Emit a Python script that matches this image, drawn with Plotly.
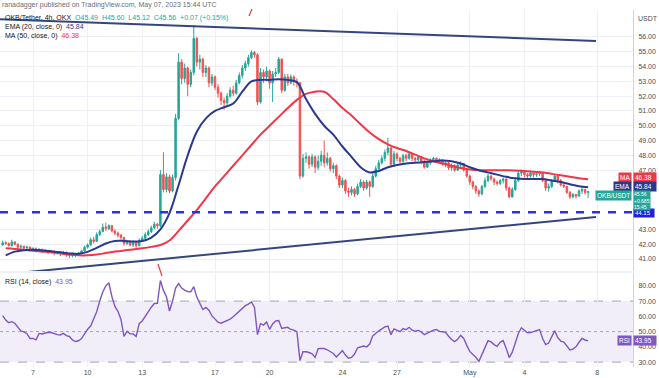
import plotly.graph_objects as go
from datetime import datetime, timedelta

# ---------------- data (OKB/USDT, 4h candles) ----------------
first_open = 41.95
closes = [42.10, 42.05, 41.90, 42.15, 42.00, 41.80, 41.85, 41.75, 41.80, 41.60,
          41.70, 41.55, 41.65, 41.50, 41.58, 41.45, 41.52, 41.40, 41.48, 41.35,
          41.45, 41.30, 41.25, 41.35, 41.28, 41.40, 41.55, 41.80, 41.95, 42.30,
          42.20, 42.65, 42.85, 43.15, 43.05, 43.25, 42.90, 42.75, 42.60, 42.45,
          42.05, 42.20, 41.95, 42.15, 41.90, 42.25, 42.40, 42.65, 42.85, 43.10,
          43.35, 43.25, 46.70, 45.70, 46.55, 45.60, 46.50, 50.50, 54.30, 53.20,
          53.90, 52.80, 53.60, 55.90, 54.30, 54.50, 53.60, 53.90, 52.90, 53.30,
          52.60, 52.20, 51.70, 51.55, 52.00, 52.40, 52.20, 52.90, 53.40, 53.90,
          54.20, 54.60, 54.95, 54.80, 51.60, 53.60, 53.30, 53.70, 52.90, 53.50,
          53.60, 54.50, 52.40, 53.30, 52.90, 53.30, 53.00, 52.90, 46.60, 47.80,
          47.90, 47.40, 47.90, 47.20, 47.60, 48.00, 47.50, 47.80, 47.10, 47.30,
          46.60, 46.00, 46.30, 45.60, 45.50, 45.70, 45.40, 45.90, 46.20, 45.80,
          46.20, 45.90, 46.60, 47.10, 47.50, 47.80, 48.20, 48.50, 47.40, 48.10,
          47.80, 47.60, 48.00, 47.80, 48.10, 47.80, 47.70, 47.90, 47.60, 47.20,
          47.50, 47.70, 47.80, 47.65, 47.70, 47.40, 47.50, 47.15, 47.30, 47.00,
          47.35, 47.45, 47.00, 46.60, 46.20, 45.90, 45.60, 45.40, 45.90, 46.30,
          46.60, 46.40, 46.20, 46.10, 46.30, 46.40, 45.80, 45.20, 45.70, 46.30,
          46.80, 46.90, 46.70, 46.60, 46.80, 46.70, 46.75, 46.85, 46.30, 45.80,
          45.90, 46.30, 46.60, 46.30, 46.00, 45.90, 45.50, 45.20, 45.35, 45.25,
          45.60, 45.70, 45.49, 45.56]
highs = [42.25, 42.20, 42.12, 42.30, 42.20, 42.05, 41.98, 41.92, 41.90, 41.85,
         41.80, 41.78, 41.75, 41.70, 41.68, 41.62, 41.60, 41.58, 41.55, 41.52,
         41.55, 41.50, 41.40, 41.45, 41.40, 41.48, 41.62, 41.90, 42.05, 42.45,
         42.50, 42.80, 43.00, 43.40, 43.45, 43.35, 43.30, 43.00, 42.85, 42.70,
         42.50, 42.30, 42.25, 42.25, 42.20, 42.40, 42.55, 42.80, 43.00, 43.25,
         43.50, 43.45, 47.00, 48.20, 46.80, 46.70, 46.70, 50.80, 54.90, 54.50,
         54.20, 54.00, 53.80, 56.80, 56.00, 54.80, 54.60, 54.10, 54.00, 53.50,
         53.40, 52.80, 52.30, 51.90, 52.20, 52.60, 52.70, 53.10, 53.60, 54.10,
         54.40, 54.80, 55.10, 55.05, 54.90, 53.90, 53.80, 54.00, 53.80, 53.70,
         53.90, 54.65, 54.55, 53.50, 53.50, 53.45, 53.40, 53.20, 52.95, 48.10,
         48.20, 48.00, 48.10, 48.00, 48.00, 48.30, 49.00, 48.20, 47.90, 47.50,
         47.40, 46.70, 46.50, 46.40, 45.80, 45.90, 45.80, 46.10, 46.40, 46.30,
         46.35, 46.30, 46.80, 47.30, 47.70, 48.00, 48.40, 49.20, 48.60, 48.30,
         48.20, 47.90, 48.10, 48.10, 48.20, 48.15, 47.90, 48.00, 47.95, 47.70,
         47.65, 47.80, 47.90, 47.85, 47.80, 47.75, 47.60, 47.55, 47.45, 47.40,
         47.50, 47.60, 47.50, 47.10, 46.70, 46.30, 46.00, 45.70, 46.00, 46.50,
         46.75, 46.70, 46.50, 46.30, 46.40, 46.50, 46.45, 45.90, 45.85, 46.45,
         46.95, 47.05, 46.95, 46.80, 46.90, 46.85, 46.90, 46.95, 46.90, 46.35,
         46.10, 46.40, 46.70, 46.65, 46.40, 46.10, 45.95, 45.60, 45.45, 45.40,
         45.70, 45.85, 45.75, 45.60]
lows = [41.90, 41.95, 41.85, 41.85, 41.92, 41.70, 41.70, 41.62, 41.65, 41.50,
        41.52, 41.45, 41.50, 41.40, 41.42, 41.35, 41.38, 41.25, 41.30, 41.20,
        41.28, 41.15, 41.05, 41.10, 41.12, 41.20, 41.30, 41.50, 41.70, 41.90,
        42.05, 42.15, 42.55, 42.80, 42.90, 42.95, 42.80, 42.60, 42.45, 42.30,
        41.90, 41.95, 41.85, 41.80, 41.75, 41.85, 42.15, 42.30, 42.55, 42.75,
        43.00, 43.05, 43.15, 45.50, 45.50, 45.45, 45.50, 46.30, 50.40, 52.80,
        52.90, 52.00, 52.60, 53.40, 54.00, 53.80, 53.30, 53.30, 52.60, 52.70,
        52.40, 51.90, 51.40, 51.10, 51.40, 51.90, 52.00, 52.10, 52.80, 53.20,
        53.70, 54.00, 54.50, 54.60, 51.40, 51.50, 52.90, 53.00, 52.50, 51.60,
        53.30, 53.50, 52.20, 52.30, 52.70, 52.80, 52.70, 52.60, 46.40, 46.50,
        47.50, 47.10, 47.20, 46.80, 47.00, 47.30, 47.20, 47.30, 46.90, 46.80,
        46.40, 45.80, 45.80, 45.40, 45.20, 45.30, 45.20, 45.30, 45.80, 45.60,
        45.70, 45.20, 45.80, 46.50, 47.00, 47.40, 47.60, 48.00, 47.20, 47.30,
        47.60, 47.40, 47.50, 47.60, 47.70, 47.60, 47.50, 47.60, 47.40, 47.10,
        47.15, 47.35, 47.55, 47.50, 47.50, 47.30, 47.20, 47.00, 46.95, 46.90,
        46.95, 47.20, 46.90, 46.50, 46.00, 45.70, 45.40, 45.20, 45.30, 45.80,
        46.20, 46.30, 46.00, 45.95, 46.00, 46.10, 45.60, 45.10, 45.15, 45.60,
        46.20, 46.60, 46.50, 46.40, 46.50, 46.50, 46.55, 46.60, 46.20, 45.60,
        45.55, 45.80, 46.20, 46.10, 45.90, 45.80, 45.40, 45.05, 45.10, 45.10,
        45.20, 45.40, 45.35, 45.12]
# EMA(20) and MA(50), every third candle (index 1, 4, 7, ...)
ema20 = [41.25, 41.50, 41.60, 41.62, 41.58, 41.52, 41.45, 41.38, 41.35, 41.48,
         41.75, 42.05, 42.22, 42.22, 42.18, 42.22, 42.45, 43.00, 44.10, 46.00,
         48.00, 49.60, 50.50, 51.00, 51.25, 51.50, 52.30, 53.00, 53.10, 53.10,
         53.15, 53.10, 52.95, 51.80, 50.80, 50.00, 49.40, 48.60, 47.90, 47.20,
         46.85, 46.95, 47.20, 47.35, 47.45, 47.50, 47.55, 47.60, 47.65, 47.60,
         47.45, 47.20, 47.00, 46.85, 46.70, 46.55, 46.45, 46.40, 46.40, 46.40,
         46.30, 46.20, 46.05, 45.92, 45.84]
ma50 = [41.72, 41.68, 41.62, 41.55, 41.50, 41.45, 41.38, 41.30, 41.25, 41.25,
        41.30, 41.40, 41.50, 41.58, 41.65, 41.72, 41.82, 41.95, 42.25, 42.90,
        43.60, 44.30, 45.10, 45.90, 46.60, 47.30, 48.00, 48.70, 49.40, 50.00,
        50.60, 51.20, 51.75, 52.15, 52.30, 52.30, 51.80, 51.20, 50.70, 50.10,
        49.55, 49.10, 48.75, 48.50, 48.30, 48.05, 47.80, 47.60, 47.45, 47.30,
        47.15, 47.05, 47.00, 47.00, 47.00, 47.00, 46.98, 46.95, 46.90, 46.85,
        46.75, 46.65, 46.55, 46.45, 46.38]
rsi14 = [60.5, 57.5, 55.8, 56.5, 55.5, 53.0, 50.5, 49.8, 48.6, 45.5,
         45.5, 44.6, 48.8, 48.4, 49.0, 49.6, 49.4, 48.6, 48.0, 47.8,
         48.8, 47.4, 46.8, 44.5, 43.5, 44.0, 45.4, 48.5, 51.5, 53.6,
         57.8, 63.0, 70.0, 76.0, 80.0, 82.0, 73.0, 66.5, 63.3, 58.0,
         46.8, 50.2, 48.5, 48.5, 46.8, 55.2, 57.0, 60.0, 63.5, 66.0,
         68.4, 68.5, 83.5, 77.0, 72.8, 63.5, 70.0, 78.5, 81.5, 78.5,
         77.2, 76.3, 76.1, 79.5, 72.6, 68.8, 64.5, 65.8, 64.0, 60.3,
         58.0, 56.2, 55.5, 56.4, 57.8, 58.2, 59.7, 61.5, 63.6, 65.6,
         67.0, 68.0, 69.4, 66.0, 48.0, 55.2, 54.3, 56.3, 51.5, 55.0,
         57.0, 57.2, 52.1, 52.5, 52.8, 51.4, 51.0, 49.9, 31.0, 36.8,
         36.8, 36.3, 35.4, 33.1, 38.8, 39.0, 38.9, 38.1, 37.0, 35.7,
         33.4, 35.8, 37.5, 34.6, 32.6, 33.1, 35.3, 39.4, 39.8, 40.5,
         40.0, 41.8, 47.2, 49.0, 50.5, 51.8, 53.1, 53.6, 48.0, 51.8,
         50.9, 49.9, 52.0, 51.2, 52.8, 50.9, 50.2, 50.8, 49.8, 48.0,
         49.0, 50.1, 51.0, 51.4, 50.1, 49.9, 49.5, 47.0, 44.8, 43.5,
         45.0, 47.5, 45.5, 41.0, 37.0, 35.0, 33.2, 30.5, 35.5, 39.5,
         44.0, 43.2, 41.5, 40.3, 43.0, 44.1, 39.0, 33.0, 36.5, 42.4,
         48.8, 52.5, 50.8, 49.2, 49.3, 50.0, 50.6, 51.3, 45.5, 41.5,
         42.5, 46.6, 50.6, 46.0, 43.8, 43.1, 40.3, 38.0, 38.5, 40.0,
         43.0, 45.5, 44.5, 43.95]
support_level = 44.15
upper_trend = [("2023-04-05 04:29", 57.20), ("2023-05-07 22:25", 55.73)]
lower_trend = [("2023-04-05 04:29", 39.94), ("2023-05-07 22:25", 43.84)]
date_ticks = ["2023-04-07", "2023-04-10", "2023-04-13", "2023-04-17", "2023-04-20",
              "2023-04-24", "2023-04-27", "2023-05-01", "2023-05-04", "2023-05-08"]
date_labels = ["7", "10", "13", "17", "20", "24", "27", "May", "4", "8"]
price_ticks = [41, 42, 43, 47, 48, 49, 50, 51, 52, 53, 54, 55, 56]
rsi_ticks = [30, 40, 50, 60, 70, 80]

start = datetime(2023, 4, 5, 8, 0)
times = [start + timedelta(hours=4 * i) for i in range(len(closes))]
opens = [first_open] + closes[:-1]
line_times = times[1::3]

# ---------------- styling ----------------
GREEN = "#26a69a"
RED = "#ef5350"
NAVY = "#283a8f"
MA_RED = "#f23645"
TREND = "#35467e"
DASH_BLUE = "#2f2fe8"
PURPLE = "#7e57c2"
GRID = "#eef0f5"
FONT = "Liberation Sans"

W, H = 659, 378
T, B, L, R = 0, 11, 0, 26
PH = H - T - B


def py(pix):
    return (PH - (pix - T)) / PH


fig = go.Figure()
fig.add_trace(go.Candlestick(
    x=times, open=opens, high=highs, low=lows, close=closes,
    increasing=dict(line=dict(color=GREEN, width=1), fillcolor=GREEN),
    decreasing=dict(line=dict(color=RED, width=1), fillcolor=RED),
    whiskerwidth=0, xaxis="x", yaxis="y", showlegend=False, hoverinfo="skip"))
fig.add_trace(go.Scatter(x=line_times, y=ma50, mode="lines", line=dict(color=MA_RED, width=2, shape="spline"),
                         xaxis="x", yaxis="y", showlegend=False, hoverinfo="skip"))
fig.add_trace(go.Scatter(x=line_times, y=ema20, mode="lines", line=dict(color=NAVY, width=2, shape="spline"),
                         xaxis="x", yaxis="y", showlegend=False, hoverinfo="skip"))
fig.add_trace(go.Scatter(x=times, y=rsi14, mode="lines", line=dict(color=PURPLE, width=1.4),
                         xaxis="x2", yaxis="y2", showlegend=False, hoverinfo="skip"))

xrange = ["2023-04-05 04:29", "2023-05-09 23:12"]
axis_font = dict(family=FONT, size=7, color="#4a4e59")
fig.update_layout(
    width=W, height=H, margin=dict(l=L, r=R, t=T, b=B, autoexpand=False),
    paper_bgcolor="white", plot_bgcolor="white",
    font=dict(family=FONT, size=7, color="#131722"),
    xaxis=dict(domain=[0, 1], range=xrange, type="date", anchor="y",
               rangeslider=dict(visible=False), showticklabels=False,
               tickvals=date_ticks, showgrid=True, gridcolor=GRID, gridwidth=1,
               zeroline=False, showline=False, fixedrange=True),
    yaxis=dict(domain=[py(271), py(10)], range=[40.19, 57.82], side="right",
               tickvals=price_ticks, ticktext=[f"{v:.2f}" for v in price_ticks],
               tickfont=axis_font, ticks="", ticklabelstandoff=3,
               showgrid=True, gridcolor=GRID, zeroline=False,
               showline=True, linecolor="#d1d4dc", linewidth=1),
    xaxis2=dict(domain=[0, 1], range=xrange, type="date", anchor="y2",
                tickvals=date_ticks, ticktext=date_labels, tickfont=axis_font,
                showgrid=True, gridcolor=GRID, zeroline=False, showline=False, ticks=""),
    yaxis2=dict(domain=[0, py(273)], range=[26.8, 88.4], side="right",
                tickvals=rsi_ticks, ticktext=[f"{v:.2f}" for v in rsi_ticks],
                tickfont=axis_font, ticks="", ticklabelstandoff=3,
                showgrid=False, zeroline=False,
                showline=True, linecolor="#d1d4dc", linewidth=1),
)

shapes = []
# RSI background band and level lines
shapes.append(dict(type="rect", xref="paper", yref="y2", x0=0, x1=1, y0=30, y1=70,
                   fillcolor="rgba(126,87,194,0.10)", line=dict(width=0), layer="below"))
for lv, dsh in [(70, "dash"), (50, "dot"), (30, "dash")]:
    shapes.append(dict(type="line", xref="paper", yref="y2", x0=0, x1=1, y0=lv, y1=lv,
                       line=dict(color="#a3a6af", width=1, dash=dsh), layer="below"))
# pane separator
shapes.append(dict(type="line", xref="paper", yref="paper", x0=0, x1=1, y0=py(272), y1=py(272),
                   line=dict(color="#e0e3eb", width=1)))
# support level
shapes.append(dict(type="line", xref="paper", yref="y", x0=0, x1=1, y0=support_level, y1=support_level,
                   line=dict(color=DASH_BLUE, width=2.5, dash="8px,8px")))
# trend lines
for seg in (upper_trend, lower_trend):
    shapes.append(dict(type="line", xref="x", yref="y", x0=seg[0][0], y0=seg[0][1],
                       x1=seg[1][0], y1=seg[1][1], line=dict(color=TREND, width=2)))
# small red idea marks
shapes.append(dict(type="line", xref="paper", yref="paper", x0=158 / 633, x1=162 / 633,
                   y0=py(264), y1=py(276), line=dict(color="#e0403a", width=1.2)))
shapes.append(dict(type="line", xref="paper", yref="paper", x0=249 / 633, x1=252 / 633,
                   y0=py(16), y1=py(9), line=dict(color="#e0403a", width=1.2)))
fig.update_layout(shapes=shapes)

ann = []
ann.append(dict(xref="paper", yref="paper", x=0.0, y=py(5), xanchor="left", yanchor="middle",
                text="ranadagger published on TradingView.com, May 07, 2023 15:44 UTC",
                showarrow=False, font=dict(size=7, color="#6a6d78")))
ann.append(dict(xref="paper", yref="paper", x=0.004, y=py(18), xanchor="left", yanchor="middle",
                text=("OKB/Tether, 4h, OKX  <span style='color:%s'>O45.49  H45.60  L45.12  C45.56  +0.07 (+0.15%%)</span>" % GREEN),
                showarrow=False, font=dict(size=7, color="#131722")))
ann.append(dict(xref="paper", yref="paper", x=0.004, y=py(27), xanchor="left", yanchor="middle",
                text="EMA (20, close, 0)  <span style='color:%s'>45.84</span>" % NAVY,
                showarrow=False, font=dict(size=7, color="#131722")))
ann.append(dict(xref="paper", yref="paper", x=0.004, y=py(35.5), xanchor="left", yanchor="middle",
                text="MA (50, close, 0)  <span style='color:%s'>46.38</span>" % MA_RED,
                showarrow=False, font=dict(size=7, color="#131722")))
ann.append(dict(xref="paper", yref="paper", x=0.004, y=py(282), xanchor="left", yanchor="middle",
                text="RSI (14, close)  <span style='color:%s'>43.95</span>" % PURPLE,
                showarrow=False, font=dict(size=7, color="#131722")))
ann.append(dict(xref="paper", yref="paper", x=1.0, y=py(19), xanchor="left", yanchor="middle",
                xshift=3, text="USDT", showarrow=False, font=dict(size=7, color="#4a4e59")))


def tag(pix, left_text, right_text, color, size=6.5):
    ann.append(dict(xref="paper", yref="paper", x=1.0, y=py(pix), xanchor="left", yanchor="middle",
                    text=right_text, showarrow=False, bgcolor=color, borderpad=1,
                    font=dict(size=size, color="white"), align="left"))
    if left_text:
        ann.append(dict(xref="paper", yref="paper", x=1.0, y=py(pix), xanchor="right", yanchor="middle",
                        xshift=-1, text=left_text, showarrow=False, bgcolor=color, borderpad=1,
                        font=dict(size=size, color="white")))


tag(178, "MA", "46.38  ", MA_RED)
tag(186.5, "EMA", "45.84  ", NAVY)
tag(213, None, "44.15  ", "#1f1fe0", size=6)
ann.append(dict(xref="paper", yref="paper", x=1.0, y=py(195), xanchor="right", yanchor="middle",
                xshift=-1, text="OKB/USDT", showarrow=False, bgcolor=GREEN, borderpad=1,
                font=dict(size=6.5, color="white")))
ann.append(dict(xref="paper", yref="paper", x=1.0, y=py(190), xanchor="left", yanchor="top",
                text="45.56  <br>+0.685<br>15:45", showarrow=False, bgcolor=GREEN, borderpad=0,
                font=dict(size=5, color="white"), align="left"))
tag(340.5, "RSI", "43.95  ", PURPLE)

fig.update_layout(annotations=ann)
fig.write_html("out.html", config={"displayModeBar": False},
               post_script="document.body.style.margin='0px';")
